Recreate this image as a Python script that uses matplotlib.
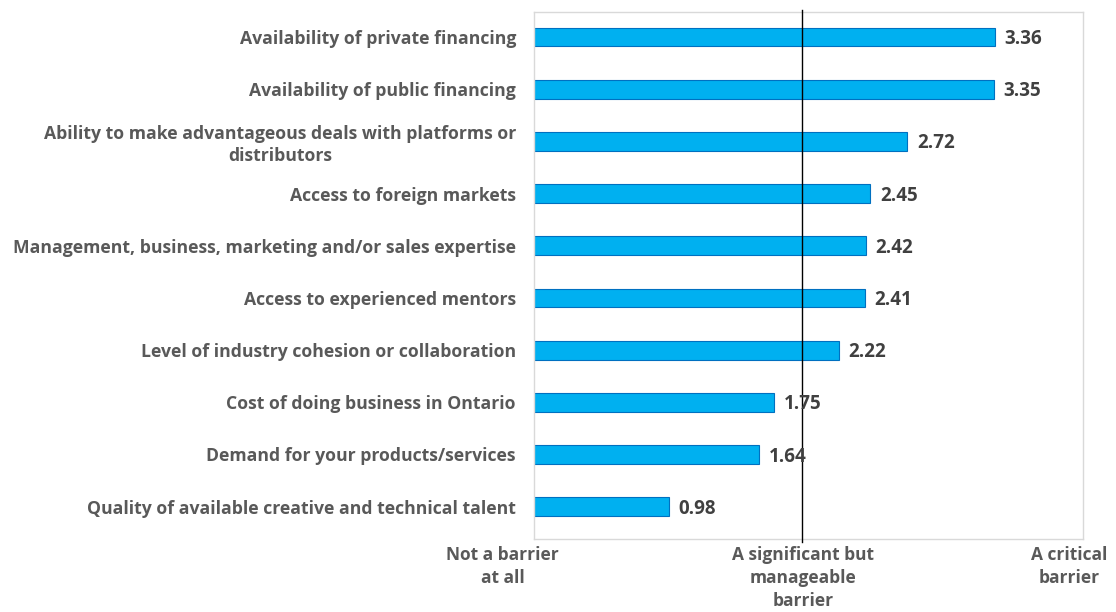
import matplotlib
matplotlib.use("Agg")
import matplotlib.pyplot as plt
from matplotlib.transforms import blended_transform_factory

categories = [
    "Availability of private financing",
    "Availability of public financing",
    "Ability to make advantageous deals with platforms or\ndistributors",
    "Access to foreign markets",
    "Management, business, marketing and/or sales expertise",
    "Access to experienced mentors",
    "Level of industry cohesion or collaboration",
    "Cost of doing business in Ontario",
    "Demand for your products/services",
    "Quality of available creative and technical talent",
]
values = [3.36, 3.35, 2.72, 2.45, 2.42, 2.41, 2.22, 1.75, 1.64, 0.98]
scale_labels = ["Not a barrier\nat all", "A significant but\nmanageable\nbarrier", "A critical\nbarrier"]
scale_positions = [-0.23, 1.96, 3.9]
ref_line = 1.95

plt.rcParams['font.family'] = ['Open Sans', 'DejaVu Sans']

fig = plt.figure(figsize=(11.16, 6.12), dpi=100)
ax = fig.add_axes([534/1116, 1-539/612, (1083-534)/1116, (539-12)/612])

y = list(range(len(categories)))
ax.barh(y, values, height=0.36, color="#00B0F0", edgecolor="#0070C0", linewidth=0.8, zorder=2)
ax.set_xlim(0, 4)
ax.set_ylim(9.62, -0.48)

for yi, v in zip(y, values):
    ax.text(v + 0.07, yi + 0.04, f"{v:.2f}", va="center", ha="left", fontsize=13.5,
            fontweight="bold", color="#404040", zorder=4)

ax.axvline(ref_line, ymin=-0.006, ymax=1.004, color="black", linewidth=1.0, zorder=3, clip_on=False)

ax.set_yticks(y)
ax.set_yticklabels(categories, fontsize=12.7, fontweight="bold", color="#595959",
                   linespacing=1.25)
for lbl in ax.get_yticklabels():
    lbl.set_multialignment("center")
ax.tick_params(axis="y", length=0, pad=13)
ax.set_xticks([])

for s in ax.spines.values():
    s.set_color("#D9D9D9")
    s.set_linewidth(1.0)

tr = blended_transform_factory(ax.transData, fig.transFigure)
for lab, pos in zip(scale_labels, scale_positions):
    fig.text(pos, 1-546/612, lab, transform=tr, ha="center", va="top", fontsize=12.5,
             fontweight="bold", color="#595959", multialignment="center", linespacing=1.36)

fig.savefig("out.png", dpi=100)
